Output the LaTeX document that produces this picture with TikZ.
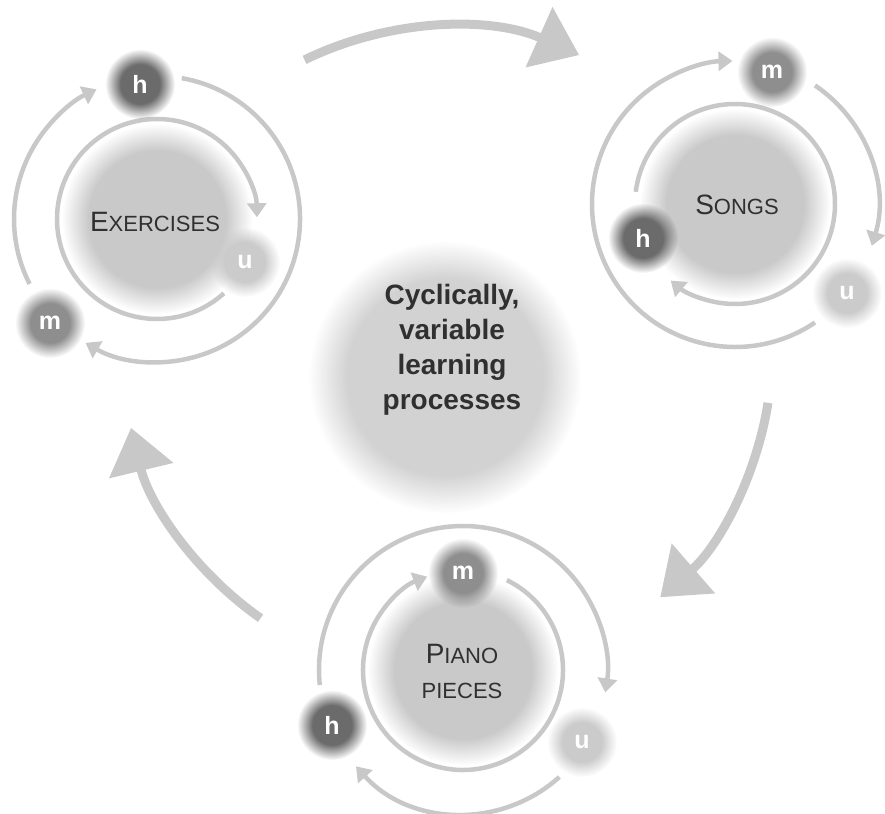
\documentclass[tikz,border=0pt]{standalone}
\usepackage{fontspec}
\setmainfont{Liberation Sans}
\usetikzlibrary{arrows.meta,fadings}

\definecolor{ringgray}{HTML}{C8C8C8}
\definecolor{diskgray}{HTML}{C9C9C9}
\definecolor{centergray}{HTML}{D2D2D2}
\definecolor{hgray}{HTML}{6B6B6B}
\definecolor{mgray}{HTML}{8E8E8E}
\definecolor{ugray}{HTML}{CBCBCB}
\definecolor{labelgray}{HTML}{303030}

\pgfdeclareradialshading{softdiskshade}{\pgfpointorigin}{color(0bp)=(pgftransparent!0); color(18bp)=(pgftransparent!0); color(25bp)=(pgftransparent!100); color(50bp)=(pgftransparent!100)}
\pgfdeclarefading{softdisk}{\pgfuseshading{softdiskshade}}
\pgfdeclareradialshading{softballshade}{\pgfpointorigin}{color(0bp)=(pgftransparent!0); color(14bp)=(pgftransparent!0); color(25bp)=(pgftransparent!100); color(50bp)=(pgftransparent!100)}
\pgfdeclarefading{softball}{\pgfuseshading{softballshade}}

\newcommand{\smallcap}[1]{{\fontsize{22}{35}\selectfont #1}}

\begin{document}
\begin{tikzpicture}[
		x=1pt, y=1pt,
		cyc/.style={draw=ringgray, line width=4.5pt, -{Triangle[length=14pt,width=19pt]}},
		bigarrow/.style={draw=ringgray, line width=9pt, -{Triangle[length=44pt,width=64pt]}},
		blob/.style={fill=diskgray, path fading=softdisk},
		ball/.style={circle, minimum size=70pt, inner sep=0pt, fill=#1, path fading=softball,
			text=white, font=\bfseries\fontsize{25}{25}\selectfont},
		lbl/.style={align=center, text=labelgray, font=\fontsize{28}{35}\selectfont}
		]
		\useasboundingbox (0,0) rectangle (885,813);
		\coordinate (mid) at (447,461);
		\coordinate (ex) at (157,594);
		\coordinate (so) at (735,609);
		\coordinate (pi) at (463,143);
		
		\fill[blob, fill=centergray] (445,436) circle (136);
		\fill[blob] (ex) circle (95);
		\fill[blob] (so) circle (95);
		\fill[blob] (pi) circle (95);
		
		\draw[bigarrow] ([shift={(116:325)}]mid) arc[start angle=116, end angle=66, radius=325];
		\draw[bigarrow] ([shift={(-9:325)}]mid) arc[start angle=-9, end angle=-49, radius=325];
		\draw[bigarrow] ([shift={(235:325)}]mid) arc[start angle=235, end angle=193.5, radius=325];
		
		\draw[cyc] ([shift={(80:143)}]ex) arc[start angle=80, end angle=-120, radius=143];
		\draw[cyc] ([shift={(207:143)}]ex) arc[start angle=207, end angle=115, radius=143];
		\draw[cyc] ([shift={(-48:100)}]ex) arc[start angle=-48, end angle=-359, radius=100];
		
		\draw[cyc] ([shift={(56:143)}]so) arc[start angle=56, end angle=-17, radius=143];
		\draw[cyc] ([shift={(-56:143)}]so) arc[start angle=-56, end angle=-269, radius=143];
		\draw[cyc] ([shift={(173:100)}]so) arc[start angle=173, end angle=-130, radius=100];
		
		\draw[cyc] ([shift={(64:100)}]pi) arc[start angle=64, end angle=-249, radius=100];
		\draw[cyc] ([shift={(186:144)}]pi) arc[start angle=186, end angle=-9, radius=144];
		\draw[cyc] ([shift={(-48:144)}]pi) arc[start angle=-48, end angle=-138, radius=144];
		
		\node[ball=hgray] (ex-h) at (140,729) {h};
		\node[ball=mgray] (ex-m) at (50,490) {m};
		\node[ball=ugray] (ex-u) at (245,551) {u};
		
		\node[ball=mgray] (so-m) at (772,741) {m};
		\node[ball=ugray] (so-u) at (847,520) {u};
		\node[ball=hgray] (so-h) at (643,575) {h};
		
		\node[ball=mgray] (pi-m) at (463,240) {m};
		\node[ball=ugray] (pi-u) at (582,71) {u};
		\node[ball=hgray] (pi-h) at (332,88) {h};
		
		\node[lbl] (ex-lbl) at (155,591) {E\smallcap{XERCISES}};
		\node[lbl] (so-lbl) at (737,608) {S\smallcap{ONGS}};
		\node[lbl] (pi-lbl) at (462,142) {P\smallcap{IANO}\\\smallcap{PIECES}};
		\node[lbl, font=\bfseries\fontsize{28}{35}\selectfont] (mid-lbl) at (452,463) {Cyclically,\\variable\\learning\\processes};
\end{tikzpicture}
\end{document}
